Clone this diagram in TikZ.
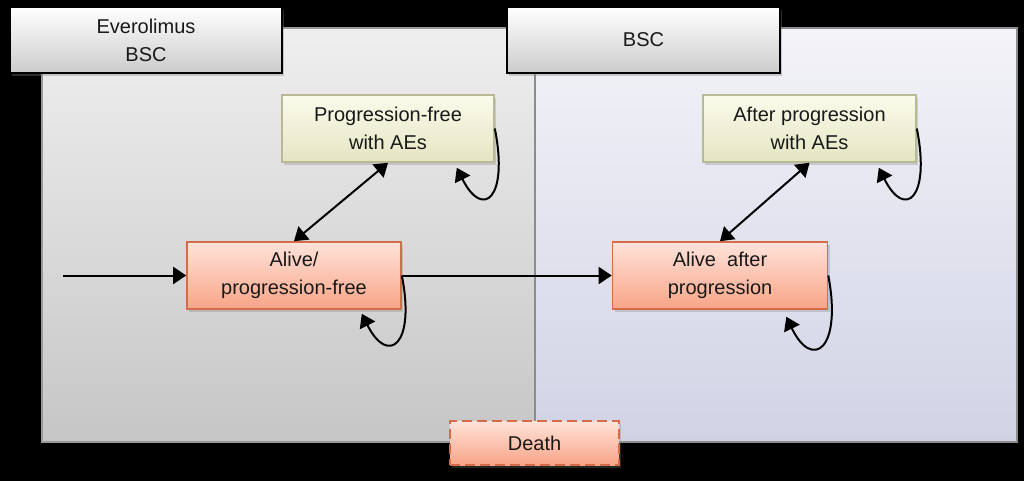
\documentclass[tikz,border=0pt]{standalone}
\usepackage{fontspec}
\setmainfont{Liberation Sans}
\usetikzlibrary{arrows.meta,shadows,calc}

\definecolor{paneltop}{HTML}{EFEFEF}
\definecolor{panelbot}{HTML}{C6C6C6}
\definecolor{bsctop}{HTML}{F3F3F8}
\definecolor{bscbot}{HTML}{D1D3E5}
\definecolor{saltop}{HTML}{FFE3DA}
\definecolor{salbot}{HTML}{F8A487}
\definecolor{salline}{HTML}{D46C4A}
\definecolor{aetop}{HTML}{FBFBEC}
\definecolor{aebot}{HTML}{E5E5C3}
\definecolor{aeline}{HTML}{B9B996}

\tikzset{
  txt/.style={font=\fontsize{20}{28}\selectfont, text=black!90, align=center},
  headbox/.style={txt, draw=black, line width=1.6pt, top color=white, bottom color=black!20,
    minimum width=272pt, minimum height=66pt,
    drop shadow={shadow xshift=2pt, shadow yshift=-3pt, opacity=0.35}},
  statebox/.style={txt, draw=salline, line width=1.6pt, top color=saltop, bottom color=salbot,
    minimum width=214pt, minimum height=67pt,
    drop shadow={shadow xshift=2pt, shadow yshift=-3pt, opacity=0.3}},
  aebox/.style={txt, draw=aeline, line width=1.6pt, top color=aetop, bottom color=aebot,
    minimum width=212pt, minimum height=67pt,
    drop shadow={shadow xshift=2pt, shadow yshift=-3pt, opacity=0.3}},
  link/.style={-{Triangle[length=13pt,width=17pt]}, line width=2pt},
  duallink/.style={{Triangle[length=13pt,width=17pt]}-{Triangle[length=13pt,width=17pt]}, line width=2pt},
}

\begin{document}
\begin{tikzpicture}[x=1pt, y=-1pt]
    % black page
    \fill[black] (0,0) rectangle (1024,481);
    \useasboundingbox (0,0) rectangle (1024,481);

    % arm panels
    \fill[top color=paneltop, bottom color=panelbot] (42,28) rectangle (535,442);
    \draw[black!40, line width=1.2pt] (42,28) rectangle (535,442);
    \fill[top color=bsctop, bottom color=bscbot] (535,28) rectangle (1017,442);
    \draw[black!45, line width=1.2pt] (535,28) rectangle (1017,442);

    % arm headers
    \node[headbox] (evebsc) at (146,40) {Everolimus\\BSC};
    \node[headbox, minimum width=273pt] (bsc) at (643.5,40) {BSC};

    % health states
    \node[aebox] (pfae) at (388,128.5) {Progression-free\\with AEs};
    \node[statebox] (alivepf) at (294,275.5) {Alive/\\progression-free};
    \node[aebox, minimum width=213pt] (apae) at (809.5,128.5) {After progression\\with AEs};
    \node[statebox, minimum width=215pt] (aliveap) at (720,275.5) {Alive\ \ after\\progression};
    \node[statebox, dashed, dash pattern=on 10pt off 5pt, minimum width=169pt, minimum height=44pt] (death) at (534.5,443) {Death};

    % entry
    \coordinate (entry) at (63,275.5);
    \draw[link] (entry) -- (alivepf.west);

    % transitions
    \draw[link] (alivepf.east) -- (aliveap.west);
    \draw[duallink] (alivepf.north) -- (pfae.south);
    \draw[duallink] (aliveap.north) -- (apae.south);

    % self loops
    \draw[link] (pfae.east) .. controls +(14,70) and +(26,52) .. ($(pfae.south east)+(-38,5)$);
    \draw[link] (alivepf.east) .. controls +(14,70) and +(26,52) .. ($(alivepf.south east)+(-40,4)$);
    \draw[link] (aliveap.east) .. controls +(14,74) and +(26,54) .. ($(aliveap.south east)+(-42,7)$);
    \draw[link] (apae.east) .. controls +(14,70) and +(26,52) .. ($(apae.south east)+(-38,5)$);
\end{tikzpicture}
\end{document}
